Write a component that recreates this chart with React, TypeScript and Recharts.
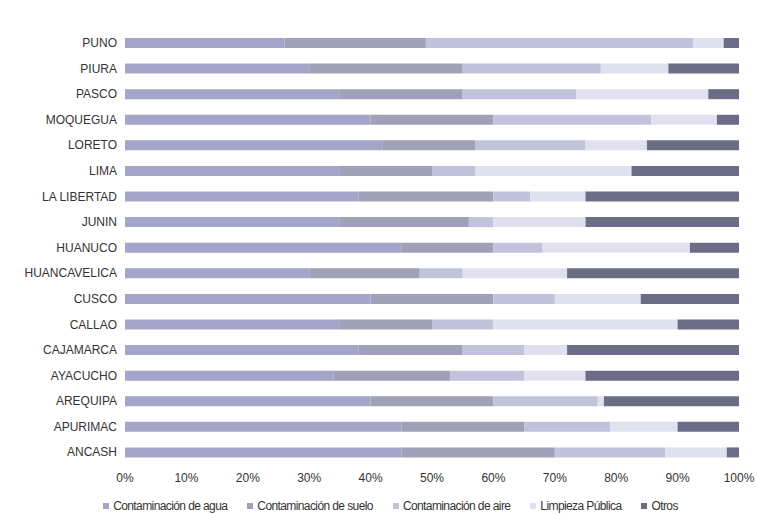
import React from 'react';
import { BarChart, Bar, XAxis, YAxis, Legend } from 'recharts';

// Departments, top to bottom
const regions = [
  'PUNO', 'PIURA', 'PASCO', 'MOQUEGUA', 'LORETO', 'LIMA', 'LA LIBERTAD', 'JUNIN', 'HUANUCO',
  'HUANCAVELICA', 'CUSCO', 'CALLAO', 'CAJAMARCA', 'AYACUCHO', 'AREQUIPA', 'APURIMAC', 'ANCASH',
];

// Share (%) per problem type
const agua = [26, 30, 35, 40, 42, 35, 38, 35, 45, 30, 40, 35, 38, 34, 40, 45, 45];
const suelo = [23, 25, 20, 20, 15, 15, 22, 21, 15, 18, 20, 15, 17, 19, 20, 20, 25];
const aire = [43.5, 22.5, 18.5, 25.7, 18, 7, 6, 4, 8, 7, 10, 10, 10, 12, 17, 14, 18];
const limpieza = [5, 11, 21.5, 10.7, 10, 25.5, 9, 15, 24, 17, 14, 30, 7, 10, 1, 11, 10];
const otros = [2.5, 11.5, 5, 3.6, 15, 17.5, 25, 25, 8, 28, 16, 10, 28, 25, 22, 10, 2];

const xTicks = [0, 0.1, 0.2, 0.3, 0.4, 0.5, 0.6, 0.7, 0.8, 0.9, 1];

const series = [
  { key: 'agua', name: 'Contaminación de agua', color: '#a5a5ca' },
  { key: 'suelo', name: 'Contaminación de suelo', color: '#a0a0b8' },
  { key: 'aire', name: 'Contaminación de aire', color: '#c2c2dd' },
  { key: 'limpieza', name: 'Limpieza Pública', color: '#e0e0ef' },
  { key: 'otros', name: 'Otros', color: '#6c6c86' },
];

const data = regions.map((region, i) => ({
  region,
  agua: agua[i],
  suelo: suelo[i],
  aire: aire[i],
  limpieza: limpieza[i],
  otros: otros[i],
}));

// legend in series order, condensed text like the original
const renderLegend = () => (
  <div
    style={{
      display: 'flex',
      justifyContent: 'center',
      gap: 20,
      paddingLeft: 42,
      fontFamily: '"Liberation Sans", Arial, sans-serif',
      fontSize: 12,
      letterSpacing: -0.6,
      color: '#333',
    }}
  >
    {series.map((s) => (
      <span key={s.key} style={{ display: 'flex', alignItems: 'center' }}>
        <span style={{ width: 6, height: 6, background: s.color, marginRight: 4, display: 'inline-block' }} />
        {s.name}
      </span>
    ))}
  </div>
);

export default function App() {
  return (
    <div style={{ position: 'absolute', left: 0, top: 0, width: 757, height: 515, background: '#fff' }}>
      <BarChart
        width={757}
        height={515}
        data={data}
        layout="vertical"
        stackOffset="expand"
        barSize={10}
        margin={{ top: 30, right: 18, left: 0, bottom: 6 }}
        style={{ fontFamily: '"Liberation Sans", Arial, sans-serif' }}
      >
        <XAxis
          type="number"
          domain={[0, 1]}
          ticks={xTicks}
          tickFormatter={(v: number) => `${Math.round(v * 100)}%`}
          axisLine={false}
          tickLine={false}
          height={24}
          tick={{ fontSize: 12, fill: '#333' }}
        />
        <YAxis
          type="category"
          dataKey="region"
          width={125}
          axisLine={false}
          tickLine={false}
          tick={{ fontSize: 12, fill: '#333' }}
        />
        <Legend verticalAlign="bottom" content={renderLegend} wrapperStyle={{ height: 20, bottom: -4 }} />
        {series.map((s) => (
          <Bar
            key={s.key}
            dataKey={s.key}
            name={s.name}
            stackId="a"
            fill={s.color}
            isAnimationActive={false}
          />
        ))}
      </BarChart>
    </div>
  );
}
